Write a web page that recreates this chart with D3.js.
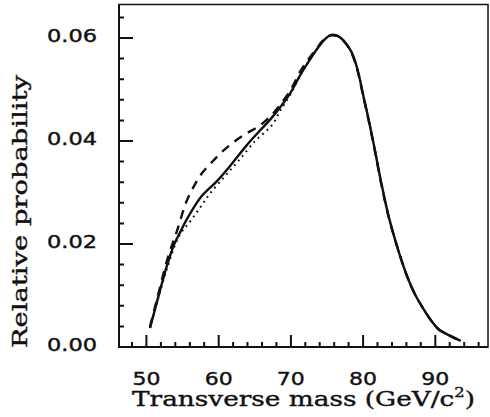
<!DOCTYPE html>
<html>
<head>
<meta charset="utf-8">
<script src="https://cdn.jsdelivr.net/npm/d3@7"></script>
<style>
  html, body { margin: 0; padding: 0; background: #fff; }
  svg { display: block; }
</style>
</head>
<body>
<div id="chart"></div>
<script>
// curves: transverse mass (GeV/c^2) -> relative probability
const solidMass = [50.5, 51.5, 52.8, 53.8, 54.6, 55.8, 57.6, 59.7, 61.5, 63.9, 65.5, 67.1, 68.5, 70, 71.3, 72.5, 73.55, 74.6, 75.6, 76.6, 77.7, 78.5, 79.3, 80, 80.8, 81.6, 82.5, 83.5, 84.5, 85.4, 86.3, 87.2, 88.4, 89.5, 90.5, 92, 93.5];
const solidProb = [0.0037, 0.0090, 0.0156, 0.0198, 0.0221, 0.0253, 0.0292, 0.0321, 0.0350, 0.0392, 0.0417, 0.0441, 0.0465, 0.0495, 0.0528, 0.0555, 0.0577, 0.0596, 0.0606, 0.0603, 0.0588, 0.0570, 0.0535, 0.0490, 0.0440, 0.0385, 0.0320, 0.0256, 0.0205, 0.0165, 0.0130, 0.0102, 0.0073, 0.0050, 0.0034, 0.0022, 0.0012];

const dashMass = [50.5, 51.5, 53, 54.2, 55.5, 56.5, 57.5, 59, 60.4, 62, 63.9, 65.5, 67.1, 68.5, 70, 71.3, 72.5, 73.5, 74.5, 75.6, 76.6, 77.7, 78.5, 79.3, 80, 80.8, 81.6, 82.5, 83.5, 84.5, 85.4, 86.3, 87.2, 88.4, 89.5, 90.5, 92, 93.5];
const dashProb = [0.0040, 0.0095, 0.0175, 0.0224, 0.0281, 0.0310, 0.0334, 0.0358, 0.0378, 0.0397, 0.0415, 0.0428, 0.0447, 0.0470, 0.0500, 0.0535, 0.0560, 0.0578, 0.0596, 0.0605, 0.0603, 0.0588, 0.0568, 0.0533, 0.0488, 0.0438, 0.0383, 0.0318, 0.0255, 0.0205, 0.0165, 0.0130, 0.0102, 0.0073, 0.0050, 0.0034, 0.0022, 0.0012];

const dotMass = [50.5, 51.5, 52.8, 54.5, 56, 57.5, 58.8, 60.9, 62.9, 65, 66.4, 67.5, 68.5, 70, 71.3, 72.5, 73.55, 74.6, 75.6, 76.6, 77.7, 78.5, 79.3, 80, 80.8, 81.6, 82.5, 83.5, 84.5, 85.4, 86.3, 87.2, 88.4, 89.5, 90.5, 92, 93.5];
const dotProb = [0.0037, 0.0088, 0.0150, 0.0215, 0.0243, 0.0272, 0.0298, 0.0332, 0.0364, 0.0399, 0.0417, 0.0433, 0.0458, 0.0492, 0.0528, 0.0555, 0.0577, 0.0596, 0.0606, 0.0603, 0.0588, 0.0570, 0.0535, 0.0490, 0.0440, 0.0385, 0.0320, 0.0256, 0.0205, 0.0165, 0.0130, 0.0102, 0.0073, 0.0050, 0.0034, 0.0022, 0.0012];

const xTickValues = [50, 60, 70, 80, 90];
const yTickValues = [0, 0.02, 0.04, 0.06];
const yTickLabels = ['0.00', '0.02', '0.04', '0.06'];

const width = 490, height = 417;
const mLeft = 119, mRight = 488, mTop = 4.5, mBottom = 347;
const ink = '#111';

const svg = d3.select('#chart')
  .append('svg')
    .attr('width', width)
    .attr('height', height);

const x = d3.scaleLinear().domain([46.2, 97.3]).range([mLeft, mRight]);
const y = d3.scaleLinear().domain([0, 0.0665]).range([mBottom, mTop]);

// frame
svg.append('rect')
  .attr('x', mLeft).attr('y', mTop)
  .attr('width', mRight - mLeft).attr('height', mBottom - mTop)
  .attr('fill', 'none')
  .attr('stroke', ink)
  .attr('stroke-width', 1.5);

// ticks, pointing inward (majors longer), drawn as one path each axis
const xMinor = d3.range(48, 97, 2);
const yMinor = d3.range(0, 0.0661, 0.004);
const isYMajor = d => yTickValues.some(t => Math.abs(t - d) < 1e-6);

const xTickPath = xMinor
  .map(d => `M${x(d).toFixed(1)},${mBottom}V${mBottom - (xTickValues.includes(d) ? 12 : 5)}`)
  .join('');
const yTickPath = yMinor
  .map(d => `M${mLeft},${y(d).toFixed(1)}H${mLeft + (isYMajor(d) ? 14 : 5)}`)
  .join('');

svg.append('path')
  .attr('d', `M${mLeft},${mTop}V${mBottom}H${mRight}` + xTickPath + yTickPath)
  .attr('fill', 'none')
  .attr('stroke', ink)
  .attr('stroke-width', 2);

// tick labels
svg.append('g').selectAll('text')
  .data(xTickValues)
  .join('text')
    .attr('x', d => x(d))
    .attr('y', 385)
    .attr('text-anchor', 'middle')
    .attr('font-family', 'DejaVu Sans')
    .attr('font-size', 18)
    .attr('fill', ink)
    .attr('stroke', ink)
    .attr('stroke-width', 0.4)
    .attr('textLength', 28)
    .attr('lengthAdjust', 'spacingAndGlyphs')
    .text(d => d);

svg.append('g').selectAll('text')
  .data(yTickValues)
  .join('text')
    .attr('x', 47)
    .attr('y', d => y(d) + 4)
    .attr('font-family', 'DejaVu Sans')
    .attr('font-size', 17)
    .attr('fill', ink)
    .attr('stroke', ink)
    .attr('stroke-width', 0.4)
    .attr('textLength', 50)
    .attr('lengthAdjust', 'spacingAndGlyphs')
    .text((d, i) => yTickLabels[i]);

// curves
const line = d3.line()
  .x(d => x(d[0]))
  .y(d => y(d[1]))
  .curve(d3.curveCatmullRom.alpha(0.5));

const series = [
  { mass: dotMass, prob: dotProb, dash: '1.8,4.2', w: 2 },
  { mass: dashMass, prob: dashProb, dash: '9,7', w: 2.4 },
  { mass: solidMass, prob: solidProb, dash: null, w: 2.4 }
];

series.forEach(s => {
  svg.append('path')
    .datum(d3.zip(s.mass, s.prob))
    .attr('d', line)
    .attr('fill', 'none')
    .attr('stroke', ink)
    .attr('stroke-width', s.w)
    .attr('stroke-dasharray', s.dash);
});

// axis titles
const xt = svg.append('text')
  .attr('x', 132)
  .attr('y', 406)
  .attr('font-family', 'DejaVu Serif')
  .attr('font-size', 21)
  .attr('fill', ink)
  .attr('stroke', ink)
  .attr('stroke-width', 0.4)
  .attr('textLength', 343)
  .attr('lengthAdjust', 'spacingAndGlyphs');
xt.append('tspan').text('Transverse mass (GeV/c');
xt.append('tspan').attr('dy', -9).attr('font-size', 13).text('2');
xt.append('tspan').attr('dy', 9).text(')');

{
  let tx = 27, ty = 348;
  svg.append('text')
    .text('Relative probability')
    .attr('x', tx)
    .attr('y', ty)
    .attr('transform', `rotate(-90 ${tx} ${ty})`)
    .attr('font-family', 'DejaVu Serif')
    .attr('font-size', 21)
    .attr('fill', ink)
    .attr('stroke', ink)
    .attr('stroke-width', 0.4)
    .attr('textLength', 273)
    .attr('lengthAdjust', 'spacingAndGlyphs');
}
</script>
</body>
</html>
